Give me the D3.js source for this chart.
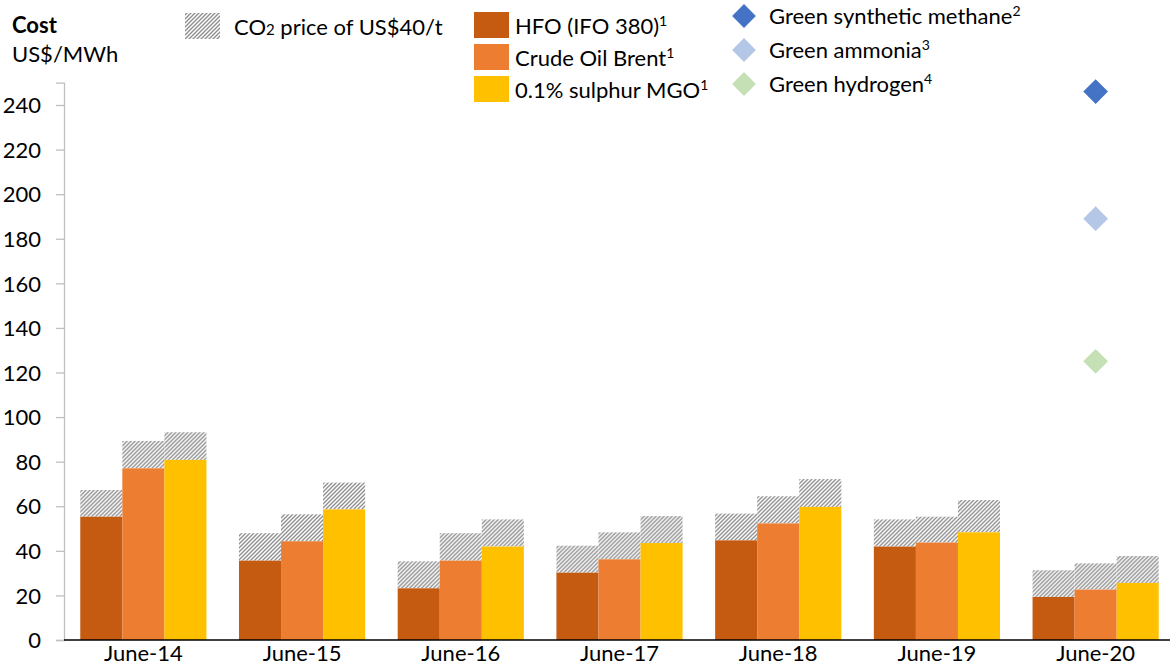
<!DOCTYPE html>
<html>
<head>
<meta charset="utf-8">
<script src="https://cdn.jsdelivr.net/npm/d3@7"></script>
<style>
  body { margin: 0; background: #fff; }
  svg text { font-family: Lato, "Open Sans", sans-serif; fill: #000; }
</style>
</head>
<body>
<svg id="chart" width="1170" height="666"></svg>
<script>
// Fuel cost per MWh, by year (June prices)
const categories = ["June-14", "June-15", "June-16", "June-17", "June-18", "June-19", "June-20"];
const hfo   = [55.3, 35.6, 23.2, 30.2, 44.7, 41.9, 19.3];
const brent = [77.0, 44.3, 35.6, 36.2, 52.3, 43.7, 22.6];
const mgo   = [80.8, 58.6, 41.9, 43.5, 59.7, 48.3, 25.6];
// Extra cost from a CO2 price of US$40/t, stacked on each fuel
const hfoCo2   = [12.0, 12.3, 12.1, 12.1, 12.0, 12.2, 12.0];
const brentCo2 = [12.3, 12.1, 12.3, 12.1, 12.2, 11.6, 11.8];
const mgoCo2   = [12.4, 12.0, 12.2, 12.1, 12.5, 14.5, 12.1];
// Green fuels, shown for the latest year only
const greenNames  = ["Green synthetic methane", "Green ammonia", "Green hydrogen"];
const greenValues = [246, 189, 125];
const greenYear = "June-20";
const yTicks = [0, 20, 40, 60, 80, 100, 120, 140, 160, 180, 200, 220, 240];

const fuels = [
  { name: "HFO (IFO 380)", sup: "1", base: hfo, co2: hfoCo2, color: "#C55A11" },
  { name: "Crude Oil Brent", sup: "1", base: brent, co2: brentCo2, color: "#ED7D31" },
  { name: "0.1% sulphur MGO", sup: "1", base: mgo, co2: mgoCo2, color: "#FFC000" }
];
const greenColors = ["#4472C4", "#B4C7E7", "#C5E0B4"];
const greenSups = ["2", "3", "4"];

const svg = d3.select("#chart");

// diagonal hatch for the CO2 portion
const defs = svg.append("defs");
const pat = defs.append("pattern")
  .attr("id", "hatch").attr("patternUnits", "userSpaceOnUse")
  .attr("width", 4).attr("height", 4);
pat.append("rect").attr("width", 4).attr("height", 4).attr("fill", "#fff");
pat.append("path")
  .attr("d", "M-1,1 L1,-1 M0,4 L4,0 M3,5 L5,3")
  .attr("stroke", "#8c8c8c").attr("stroke-width", 1.3);

const x0 = d3.scaleBand().domain(categories).range([64, 1175]).paddingInner(0.205).paddingOuter(0.1025);
const x1 = d3.scaleBand().domain(fuels.map(f => f.name)).range([0, x0.bandwidth()]);
const y = d3.scaleLinear().domain([0, 250]).range([640, 82.7]);

// y axis
const yAxis = svg.append("g").attr("transform", "translate(64,0)")
  .call(d3.axisLeft(y).tickValues(yTicks).tickSize(8).tickPadding(15));
yAxis.select(".domain").attr("stroke", "#bfbfbf").attr("stroke-width", 1.3);
yAxis.selectAll(".tick line").attr("stroke", "#bfbfbf").attr("stroke-width", 1.3);
yAxis.selectAll(".tick text").style("font-size", "22px").attr("dy", "0.35em");

// bars
const groups = svg.append("g").selectAll("g")
  .data(categories).join("g")
  .attr("transform", d => `translate(${x0(d)},0)`);

fuels.forEach(f => {
  groups.append("rect")
    .attr("x", x1(f.name)).attr("width", x1.bandwidth())
    .attr("y", (d, i) => y(f.base[i] + f.co2[i]))
    .attr("height", (d, i) => y(f.base[i]) - y(f.base[i] + f.co2[i]))
    .attr("fill", "url(#hatch)");
  groups.append("rect")
    .attr("x", x1(f.name)).attr("width", x1.bandwidth())
    .attr("y", (d, i) => y(f.base[i]))
    .attr("height", (d, i) => y(0) - y(f.base[i]))
    .attr("fill", f.color);
});

// x axis
const xAxis = svg.append("g").attr("transform", "translate(0,640)")
  .call(d3.axisBottom(x0).tickSize(0).tickPadding(5));
xAxis.select(".domain").attr("stroke", "#000").attr("stroke-width", 1.6).attr("d", "M64,0H1170");
xAxis.selectAll(".tick text").style("font-size", "22px");

// green fuel markers
const diamond = d3.symbol().type(d3.symbolDiamond2).size(390);
svg.append("g").selectAll("path")
  .data(greenValues).join("path")
  .attr("d", diamond)
  .attr("transform", v => `translate(${x0(greenYear) + x0.bandwidth() / 2},${y(v)})`)
  .attr("fill", (v, i) => greenColors[i]);

// titles
svg.append("text").attr("x", 12).attr("y", 33).style("font-size", "22px").style("font-weight", "bold").text("Cost");
svg.append("text").attr("x", 12).attr("y", 62).style("font-size", "22px").text("US$/MWh");

// legends
svg.append("rect").attr("x", 185).attr("y", 13).attr("width", 35).attr("height", 26).attr("fill", "url(#hatch)");
const co2Label = svg.append("text").attr("x", 234).attr("y", 35).style("font-size", "22px");
co2Label.append("tspan").text("CO");
co2Label.append("tspan").style("font-size", "15px").text("2");
co2Label.append("tspan").text(" price of US$40/t");

fuels.forEach((f, i) => {
  const yy = 12 + i * 32;
  svg.append("rect").attr("x", 474).attr("y", yy).attr("width", 35).attr("height", 26).attr("fill", f.color);
  const t = svg.append("text").attr("x", 515).attr("y", yy + 22).style("font-size", "22px");
  t.append("tspan").text(f.name);
  t.append("tspan").attr("dy", -8).style("font-size", "14px").text(f.sup);
});

const legDiamond = d3.symbol().type(d3.symbolDiamond2).size(360);
greenNames.forEach((n, i) => {
  const cy = 16 + i * 34;
  svg.append("path").attr("d", legDiamond).attr("transform", `translate(744,${cy})`).attr("fill", greenColors[i]);
  const t = svg.append("text").attr("x", 769).attr("y", cy + 8).style("font-size", "22px");
  t.append("tspan").text(n);
  t.append("tspan").attr("dy", -8).style("font-size", "14px").text(greenSups[i]);
});
</script>
</body>
</html>
